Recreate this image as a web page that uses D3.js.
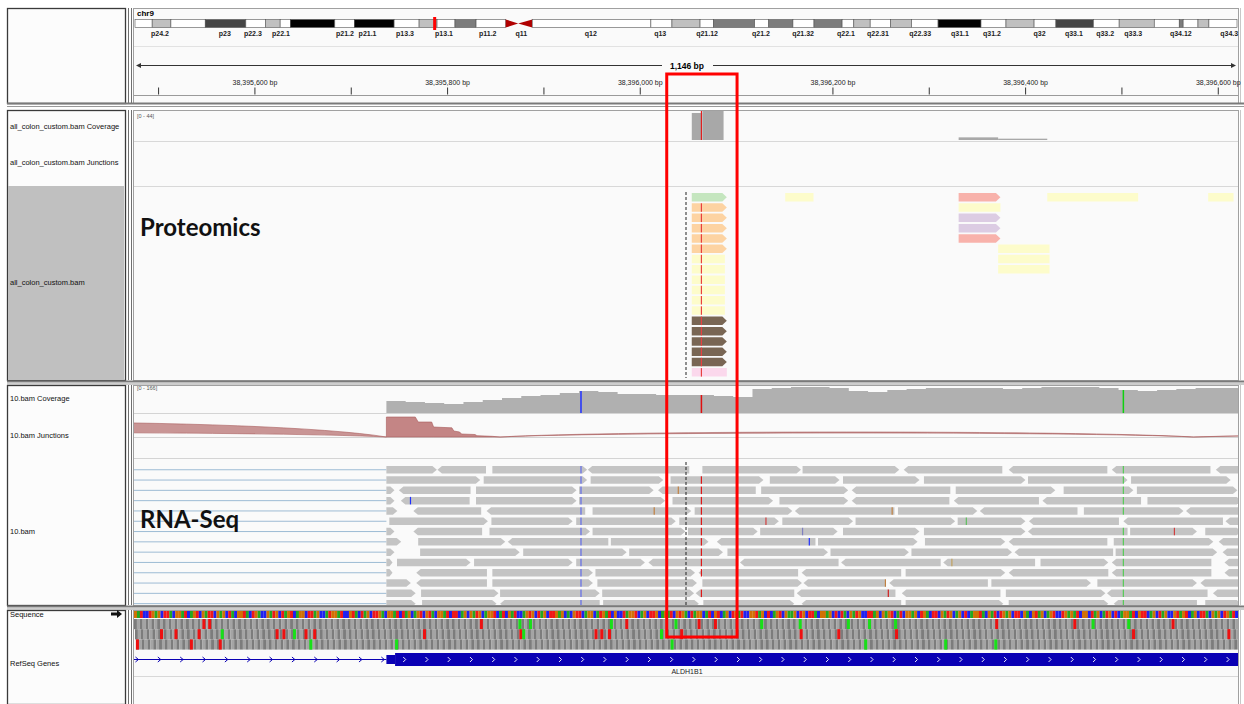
<!DOCTYPE html>
<html><head><meta charset="utf-8">
<script src="https://cdn.jsdelivr.net/npm/d3@7"></script>
<style>
html,body{margin:0;padding:0;background:#fff;}
svg{display:block;font-family:"Liberation Sans",Arial,sans-serif;}
</style></head><body>
<svg id="c" width="1244" height="704"></svg>
<script>
// ---------------- DATA ----------------
const VIEW_START = 38395475, VIEW_END = 38396621;   // chr9 locus shown (1,146 bp)
const chrName = "chr9";
const chrLength = 141.2; // Mb
// ideogram bands: [startMb, endMb, stain]
const chrBands = [[0,2.2,"gneg"],[2.2,4.6,"gpos25"],[4.6,9.0,"gneg"],[9.0,14.2,"gpos75"],[14.2,16.7,"gneg"],
 [16.7,18.6,"gpos25"],[18.6,19.9,"gneg"],[19.9,25.6,"gpos100"],[25.6,28.1,"gneg"],[28.1,33.2,"gpos100"],
 [33.2,36.4,"gneg"],[36.4,38.7,"gpos25"],[38.7,41.0,"gneg"],[41.0,43.7,"gpos50"],[43.7,47.5,"gneg"],
 [47.5,49.1,"acenL"],[49.1,50.9,"acenR"],[50.9,66.1,"gneg"],[66.1,68.8,"gneg"],[68.8,72.4,"gpos25"],
 [72.4,74.1,"gneg"],[74.1,79.4,"gpos50"],[79.4,81.2,"gneg"],[81.2,84.3,"gpos50"],[84.3,87.0,"gneg"],
 [87.0,90.6,"gpos50"],[90.6,92.1,"gneg"],[92.1,94.2,"gpos25"],[94.2,96.8,"gneg"],[96.8,99.5,"gpos25"],
 [99.5,102.9,"gneg"],[102.9,108.4,"gpos100"],[108.4,111.6,"gneg"],[111.6,115.2,"gpos25"],[115.2,118.0,"gneg"],
 [118.0,122.8,"gpos75"],[122.8,126.1,"gneg"],[126.1,130.6,"gpos25"],[130.6,133.8,"gneg"],[133.8,134.3,"gpos50"],
 [134.3,136.2,"gneg"],[136.2,137.6,"gpos25"],[137.6,141.2,"gneg"]];
const bandLabels = [["p24.2",3.2],["p23",11.5],["p22.3",15.1],["p22.1",18.7],["p21.2",26.9],["p21.1",29.8],
 ["p13.3",34.6],["p13.1",39.6],["p11.2",45.2],["q11",49.5],["q12",58.4],["q13",67.3],["q21.12",73.3],
 ["q21.2",80.2],["q21.32",85.6],["q22.1",91.1],["q22.31",95.2],["q22.33",100.6],["q31.1",105.7],
 ["q31.2",109.8],["q32",115.9],["q33.1",120.3],["q33.2",124.3],["q33.3",127.9],["q34.12",134.0],["q34.3",140.2]];
const rulerTicks = [38395500,38395600,38395700,38395800,38395900,38396000,38396100,38396200,38396300,38396400,38396500,38396600];

// track names
const protTrackNames = ["all_colon_custom.bam Coverage","all_colon_custom.bam Junctions","all_colon_custom.bam"];
const rnaTrackNames = ["10.bam Coverage","10.bam Junctions","10.bam"];
const refTrackNames = ["Sequence","RefSeq Genes"];
const protRange = [0,44], rnaRange = [0,166];

// highlighted region (offsets in bp from VIEW_START)
const highlightRegion = [553,626];

// proteomics coverage: [startOffset, endOffset, depth]
const protCoverage = [[579,590,41],[590,612,44],[856,897,4],[897,948,2]];
// proteomics peptide alignments: [row, start, end, colour class, strand]
const protReads = [
 [0,579,616,"green","+"],[0,676,706,"yellow",""],[0,856,900,"salmon","+"],[0,948,1043,"yellow",""],[0,1115,1142,"yellow",""],
 [1,579,616,"peach","+"],[1,856,900,"yellow",""],
 [2,579,616,"peach","+"],[2,856,900,"lavender","+"],
 [3,579,616,"peach","+"],[3,856,900,"lavender","+"],
 [4,579,616,"peach","+"],[4,856,900,"salmon","+"],
 [5,579,616,"peach","+"],[5,897,951,"yellow",""],
 [6,579,614,"yellow",""],[6,897,951,"yellow",""],
 [7,579,614,"yellow",""],[7,897,951,"yellow",""],
 [8,579,614,"yellow",""],[9,579,614,"yellow",""],[10,579,614,"yellow",""],[11,579,614,"yellow",""],
 [12,579,616,"brown","+"],[13,579,616,"brown","+"],[14,579,616,"brown","+"],[15,579,616,"brown","+"],[16,579,616,"brown","+"],
 [17,579,616,"pink",""]];
const protVariant = {off:589, rows:[1,17]};
const centerOffset = 573;

// RNA coverage sampled every 20 bp starting at offset 262
const rnaCovStart = 262, rnaCovStep = 20;
const rnaCoverage = [77,70,64,57,70,83,96,109,115,128,140,134,121,121,115,115,115,109,102,153,160,166,166,160,140,
 134,147,153,160,160,160,160,153,160,166,166,166,160,147,140,147,153,160,160,160];
// junction arcs {start,end,depth}
const rnaJunctions = [{start:-500,end:262,depth:44},{start:380,end:1100,depth:4},{start:1100,end:2400,depth:4}];
// stacked junction depth profile near the exon start [offset, depth]
const junctionProfile = [[262,120],[292,120],[295,90],[309,90],[311,60],[330,55],[332,36],[338,30],[340,18],[354,15],[356,8],[372,4],[380,0]];
// variant columns [offset, colour]
const snpColumns = [[464,"#2030ff"],[589,"#e01010"],[1027,"#10d010"]];
// RNA alignments per row: [start, end, strand]
const rnaRows = [
 [[262,315,"+"],[315,366,"-"],[372,471,"+"],[471,577,"-"],[590,693,"+"],[694,795,"+"],[799,902,"-"],[908,1011,"-"],[1015,1118,"-"],[1123,1150,"-"]],
 [[262,360,"+"],[363,471,"+"],[474,550,"+"],[557,654,"+"],[660,733,"+"],[736,816,"+"],[820,926,"+"],[928,1032,"+"],[1035,1139,"+"]],
 [[262,271,"+"],[275,350,"-"],[355,460,"+"],[462,540,"+"],[544,646,"-"],[651,742,"+"],[745,848,"-"],[853,957,"+"],[965,1038,"+"],[1041,1146,"+"]],
 [[262,271,"+"],[277,349,"-"],[355,460,"+"],[462,552,"+"],[559,664,"+"],[670,742,"+"],[745,847,"-"],[851,940,"-"],[943,1046,"-"],[1052,1150,"+"]],
 [[262,274,"+"],[290,361,"-"],[366,469,"-"],[476,579,"+"],[582,684,"+"],[686,790,"-"],[793,876,"+"],[878,980,"-"],[986,1090,"+"],[1092,1150,"-"]],
 [[265,368,"+"],[371,456,"+"],[459,563,"+"],[566,670,"+"],[673,747,"+"],[749,853,"+"],[855,926,"+"],[929,1023,"-"],[1027,1131,"-"],[1133,1150,"-"]],
 [[262,271,"+"],[290,362,"-"],[369,474,"+"],[476,573,"+"],[575,648,"+"],[650,731,"+"],[736,816,"+"],[820,926,"+"],[928,1032,"-"],[1034,1104,"+"],[1112,1150,"+"]],
 [[262,278,"+"],[295,386,"+"],[388,493,"-"],[495,597,"+"],[605,708,"-"],[710,814,"+"],[821,905,"+"],[908,1011,"-"],[1017,1121,"+"],[1126,1150,"-"]],
 [[262,271,"+"],[297,401,"+"],[404,512,"+"],[514,612,"+"],[616,721,"+"],[723,805,"+"],[807,912,"+"],[914,1017,"-"],[1019,1125,"+"],[1130,1150,"-"]],
 [[262,269,"+"],[273,350,"+"],[353,456,"+"],[459,531,"+"],[534,628,"-"],[629,732,"-"],[734,838,"-"],[840,936,"-"],[941,1012,"+"],[1015,1119,"-"],[1132,1150,"-"]],
 [[262,269,"+"],[293,367,"-"],[372,477,"+"],[479,583,"+"],[586,690,"-"],[693,797,"-"],[801,905,"+"],[908,1012,"-"],[1015,1119,"-"],[1132,1150,"-"]],
 [[262,288,"+"],[293,367,"-"],[372,477,"+"],[481,585,"+"],[590,694,"+"],[695,781,"-"],[784,887,"-"],[890,994,"+"],[1000,1104,"+"],[1107,1150,"-"]],
 [[262,293,"+"],[298,379,"+"],[380,484,"+"],[486,582,"+"],[583,686,"-"],[688,791,"-"],[797,900,"-"],[905,1009,"+"],[1010,1115,"-"],[1120,1150,"-"]],
 [[262,293,"+"],[299,377,"+"],[380,484,"-"],[487,587,"+"],[591,686,"+"],[693,797,"-"],[801,903,"+"],[908,1012,"+"],[1017,1104,"-"],[1112,1150,"+"]]];
// isolated mismatches [row, offset, colour]
const rnaMismatches = [[3,287,"#2030ff"],[7,701,"#2030ff"],[2,565,"#c08040"],[4,540,"#c08040"],[4,787,"#c08040"],
 [5,656,"#d04040"],[12,783,"#d02020"],[6,694,"#8080c0"],[9,849,"#c0a060"],[11,780,"#c08040"],[6,1080,"#d04040"],[5,864,"#60c060"]];

// reference sequence (sampled) and translation markers per frame
const refSequence = "GATCCTGAGCTTACGGATCAGTCGATTCGAGCTACGGTAC" + "TGACCGATGCTAGTCAGGCTTAGCCATGGATCCGTACTAG" +
 "CTTGACGGATCTAGCAGTCGTACGGATCTTCAGCGATGCA" + "GGTCATCGATCCAGTGCTAGCTTGAGCACGTTCAGGCATG" +
 "ATCGCCTAGGTCAGCTTGCAGATCGTGACTAGGCATCGTC" + "AGCTGATCCGGTAGCTCAGTCGAAGCTGCTTACGGAGCTC" +
 "TACGATGCCTTAGCGAGTCATCGGAGCTGACTTCGATGCA" + "GCTCAGGTACGATCTGAGCTTCGACGTAGCAGTCCTGAGA" +
 "TCGGCTAGCATGCTCAGGATCGTTCAGCTAGCCGTAGTCA" + "GCTTACGAGCTGATC";
const frameStops = [[71,77,359,510,585,602,894,975,1077],
 [27,42,66,147,154,177,186,300,400,478,484,492,567,691,730,790,1036,1135],
 [2,58,88]];
const frameStarts = [[399,410,494,561,650,690,740,762,789,994,1031],
 [90,165,403,546],
 [182,271,557,758,841,893]];
// RefSeq gene
const geneName = "ALDH1B1";
const geneIntron = [-300,262], geneUTR = [262,271], geneCDS = [271,1200];

// ---------------- DRAW ----------------
const svg = d3.select("#c");
const L = 134, R = 1238;
const pos = o => VIEW_START + o;
const x = d3.scaleLinear().domain([VIEW_START, VIEW_END]).range([L, R]);
const defs = svg.append("defs");
defs.append("clipPath").attr("id","dclip").append("rect").attr("x",L).attr("y",0).attr("width",R-L).attr("height",704);
defs.append("clipPath").attr("id","nclip").append("rect").attr("x",8).attr("y",0).attr("width",116).attr("height",704);
defs.append("clipPath").attr("id","aclip").append("rect").attr("x",L).attr("y",459).attr("width",R-L).attr("height",146);

svg.append("rect").attr("width",1244).attr("height",704).attr("fill","#ffffff");

const panels = [[8,103],[110,380],[385,605],[610,704]];
panels.forEach(([y0,y1])=>{
  svg.append("rect").attr("x",7.5).attr("y",y0+0.5).attr("width",118).attr("height",y1-y0)
     .attr("fill","#fcfcfc").attr("stroke","#3a3a3a").attr("stroke-width",1.3);
  svg.append("rect").attr("x",L-0.5).attr("y",y0+0.5).attr("width",R-L+1).attr("height",y1-y0)
     .attr("fill","#fafafa").attr("stroke","#a0a0a0");
  [128.5,131.5].forEach(v=>svg.append("line").attr("x1",v).attr("x2",v).attr("y1",y0).attr("y2",y1).attr("stroke","#707070"));
  svg.append("line").attr("x1",1240.5).attr("x2",1240.5).attr("y1",y0).attr("y2",y1).attr("stroke","#c8c8c8");
});
[[103,106.5],[381,384],[606,609]].forEach(([a,b])=>{
  svg.append("rect").attr("x",7).attr("y",a-0.5).attr("width",1237).attr("height",2).attr("fill","#7a7a7a");
  svg.append("line").attr("x1",7).attr("x2",1244).attr("y1",b).attr("y2",b).attr("stroke","#9a9a9a");
});

// --- header: ideogram
const chrX = d3.scaleLinear().domain([0, chrLength]).range([135, 1237]);
const stainCol = {gneg:"#ffffff",gpos25:"#c0c0c0",gpos50:"#7c7c7c",gpos75:"#454545",gpos100:"#000000"};
const hdr = svg.append("g");
hdr.append("text").attr("x",137).attr("y",16).attr("font-size",8).attr("font-weight","bold").text(chrName);
const iy = 19.5, ih = 8;
chrBands.forEach(b=>{
  const x0 = chrX(b[0]), x1 = chrX(b[1]);
  if (b[2]==="acenL") hdr.append("path").attr("d",`M${x0},${iy}L${x1},${iy+ih/2}L${x0},${iy+ih}Z`).attr("fill","#b00000");
  else if (b[2]==="acenR") hdr.append("path").attr("d",`M${x1},${iy}L${x0},${iy+ih/2}L${x1},${iy+ih}Z`).attr("fill","#b00000");
  else hdr.append("rect").attr("x",x0).attr("y",iy).attr("width",x1-x0).attr("height",ih)
      .attr("fill",stainCol[b[2]]).attr("stroke","#555").attr("stroke-width",0.6);
});
hdr.append("rect").attr("x",chrX(VIEW_START/1e6)-1.5).attr("y",17).attr("width",3).attr("height",13).attr("fill","#ff0000");
hdr.selectAll("text.band").data(bandLabels).join("text").attr("class","band")
  .attr("x",d=>chrX(d[1])).attr("y",36).attr("text-anchor","middle").attr("font-size",7).attr("font-weight","bold")
  .attr("fill","#222").text(d=>d[0]);
hdr.append("line").attr("x1",L).attr("x2",R).attr("y1",46.5).attr("y2",46.5).attr("stroke","#e2e2e2");

// ruler
const mid = (L+R)/2;
hdr.append("line").attr("x1",138).attr("x2",662).attr("y1",65.5).attr("y2",65.5).attr("stroke","#333");
hdr.append("line").attr("x1",713).attr("x2",1234).attr("y1",65.5).attr("y2",65.5).attr("stroke","#333");
hdr.append("path").attr("d","M136,65.5l5,-2.5v5z").attr("fill","#333");
hdr.append("path").attr("d","M1236,65.5l-5,-2.5v5z").attr("fill","#333");
hdr.append("text").attr("x",mid+1).attr("y",68.5).attr("text-anchor","middle").attr("font-size",8.5)
  .attr("font-weight","bold").text(d3.format(",")(VIEW_END-VIEW_START)+" bp");
const axis = d3.axisTop(x).tickValues(rulerTicks).tickSize(7).tickPadding(3)
  .tickFormat(d => d % 200 === 0 ? d3.format(",")(d) + " bp" : "");
const ag = hdr.append("g").attr("transform","translate(0,94.5)").call(axis);
ag.select(".domain").remove();
ag.selectAll("line").attr("stroke","#333");
ag.selectAll("text").attr("font-size",7).attr("fill","#222").attr("font-family","Liberation Sans, Arial");
hdr.append("line").attr("x1",L).attr("x2",R).attr("y1",95.5).attr("y2",95.5).attr("stroke","#9a9a9a");

// --- names
const names = svg.append("g").attr("clip-path","url(#nclip)");
names.append("rect").attr("x",8).attr("y",186).attr("width",117).attr("height",194).attr("fill","#c0c0c0");
const nameRows = [[protTrackNames[0],129],[protTrackNames[1],165],[protTrackNames[2],285],
  [rnaTrackNames[0],401],[rnaTrackNames[1],438],[rnaTrackNames[2],534],[refTrackNames[0],617],[refTrackNames[1],666]];
names.selectAll("text").data(nameRows).join("text").attr("x",10).attr("y",d=>d[1])
  .attr("font-size",7.5).attr("fill","#111").text(d=>d[0]);
svg.append("path").attr("d","M111,612.5h6v-2.5l5,4l-5,4v-2.5h-6z").attr("fill","#111");

const D = svg.append("g").attr("clip-path","url(#dclip)");

// --- proteomics
D.append("text").attr("x",137).attr("y",118).attr("font-size",5.5).attr("fill","#555").text(`[${protRange[0]} - ${protRange[1]}]`);
[141.5,186.5].forEach(v=>D.append("line").attr("x1",L).attr("x2",R).attr("y1",v).attr("y2",v).attr("stroke","#d8d8d8"));
const yProt = d3.scaleLinear().domain(protRange).range([140,111]);
D.selectAll("rect.pcov").data(protCoverage).join("rect").attr("class","pcov")
  .attr("x",d=>x(pos(d[0]))).attr("width",d=>x(pos(d[1]))-x(pos(d[0])))
  .attr("y",d=>yProt(d[2])).attr("height",d=>140-yProt(d[2])).attr("fill","#a8a8a8");
D.append("line").attr("x1",x(pos(protVariant.off))).attr("x2",x(pos(protVariant.off))).attr("y1",yProt(44)).attr("y2",140)
  .attr("stroke","#e02020").attr("stroke-width",1.2);

function readPath(x1,x2,y,h,s){
  x2 -= 0.6;
  const a = Math.min(4.5,(x2-x1)/2);
  if (s==="+") return `M${x1},${y}H${x2-a}L${x2},${y+h/2}L${x2-a},${y+h}H${x1}Z`;
  if (s==="-") return `M${x1+a},${y}H${x2}V${y+h}H${x1+a}L${x1},${y+h/2}Z`;
  return `M${x1},${y}H${x2}V${y+h}H${x1}Z`;
}
const protCol = {green:"#c5e6bf",peach:"#fdd3a2",yellow:"#fdfccb",salmon:"#f8b2ab",lavender:"#dccce3",brown:"#796654",pink:"#fbd8ec"};
const protRowY = r => 193 + r*10.3;
D.selectAll("path.pr").data(protReads).join("path").attr("class","pr")
  .attr("d",d=>readPath(x(pos(d[1])),x(pos(d[2])),protRowY(d[0]),8.5,d[4])).attr("fill",d=>protCol[d[3]]);
protReads.filter(d=>d[0]>=protVariant.rows[0] && d[0]<=protVariant.rows[1] && d[1]<=protVariant.off && d[2]>protVariant.off)
  .forEach(d=>D.append("line").attr("x1",x(pos(protVariant.off))).attr("x2",x(pos(protVariant.off)))
    .attr("y1",protRowY(d[0])).attr("y2",protRowY(d[0])+8.5).attr("stroke","#e84040").attr("stroke-width",1.2));
D.append("line").attr("x1",x(pos(centerOffset))).attr("x2",x(pos(centerOffset))).attr("y1",192).attr("y2",378)
  .attr("stroke","#222").attr("stroke-dasharray","3,2");
D.append("text").attr("x",140).attr("y",236).attr("font-family","Lato, 'Open Sans', sans-serif").attr("font-weight",700)
  .attr("font-size",24).attr("fill","#111").text("Proteomics");

// --- RNA coverage
D.append("text").attr("x",137).attr("y",390).attr("font-size",5.5).attr("fill","#555").text(`[${rnaRange[0]} - ${rnaRange[1]}]`);
const yCov = d3.scaleLinear().domain(rnaRange).range([413,387]);
const covPts = rnaCoverage.map((v,i)=>[pos(rnaCovStart+i*rnaCovStep),v]);
covPts.push([pos(rnaCovStart+rnaCoverage.length*rnaCovStep), rnaCoverage[rnaCoverage.length-1]]);
D.append("path").datum(covPts).attr("fill","#b0b0b0")
  .attr("d",d3.area().curve(d3.curveStepAfter).x(d=>x(d[0])).y0(413).y1(d=>yCov(d[1])));
snpColumns.forEach(([o,c])=>{
  const v = rnaCoverage[Math.floor((o-rnaCovStart)/rnaCovStep)];
  D.append("line").attr("x1",x(pos(o))).attr("x2",x(pos(o))).attr("y1",yCov(v)).attr("y2",413).attr("stroke",c).attr("stroke-width",1.5);
});
[413.5,437.5,458.5].forEach(v=>D.append("line").attr("x1",L).attr("x2",R).attr("y1",v).attr("y2",v).attr("stroke","#d4d4d4"));

// --- RNA junctions
const jBase = 437;
rnaJunctions.forEach(j=>{
  const x0 = x(pos(j.start)), x1 = x(pos(j.end)), w = x1-x0;
  const H = 4 + j.depth*0.25, T = Math.max(1, j.depth*0.24);
  const cO = H/0.75, cI = (H-T)/0.75;
  D.append("path").attr("d",`M${x0},${jBase}C${x0+w/6},${jBase-cO} ${x1-w/6},${jBase-cO} ${x1},${jBase}C${x1-w/6},${jBase-cI} ${x0+w/6},${jBase-cI} ${x0},${jBase}Z`)
    .attr("fill","#c38a8a").attr("stroke","#a85a5a").attr("stroke-width",0.6).attr("fill-opacity",0.9);
});
const yJ = d3.scaleLinear().domain([0,120]).range([jBase,417]);
D.append("path").datum(junctionProfile).attr("fill","#c48585").attr("stroke","#a85a5a").attr("stroke-width",0.6)
  .attr("d",d3.area().x(d=>x(pos(d[0]))).y0(jBase).y1(d=>yJ(d[1])));

// --- RNA alignments
const A = D.append("g").attr("clip-path","url(#aclip)");
const rowY = r => 466 + r*10.3;
rnaRows.forEach((row,r)=>{
  A.append("line").attr("x1",L).attr("x2",x(pos(262))).attr("y1",rowY(r)+3.75).attr("y2",rowY(r)+3.75)
    .attr("stroke","#9dbbd4").attr("stroke-width",1);
  row.forEach(rd=>{
    A.append("path").attr("d",readPath(x(pos(rd[0])),x(pos(rd[1])),rowY(r),7.5,rd[2])).attr("fill","#c4c4c4");
    snpColumns.forEach(([o,c],k)=>{
      if (rd[0]<o && rd[1]>o) A.append("line").attr("x1",x(pos(o))).attr("x2",x(pos(o))).attr("y1",rowY(r)).attr("y2",rowY(r)+7.5)
        .attr("stroke",c).attr("stroke-width",1.2).attr("opacity",k===1?0.95:0.6);
    });
  });
});
rnaMismatches.forEach(([r,o,c])=>A.append("line").attr("x1",x(pos(o))).attr("x2",x(pos(o)))
  .attr("y1",rowY(r)).attr("y2",rowY(r)+7.5).attr("stroke",c).attr("stroke-width",1.2));
A.append("line").attr("x1",x(pos(centerOffset))).attr("x2",x(pos(centerOffset))).attr("y1",462).attr("y2",605)
  .attr("stroke","#222").attr("stroke-dasharray","3,2");
D.append("text").attr("x",140).attr("y",528).attr("font-family","Lato, 'Open Sans', sans-serif").attr("font-weight",700)
  .attr("font-size",24).attr("fill","#111").text("RNA-Seq");

// --- sequence
const baseCol = {A:"#22a822",C:"#2020f0",G:"#d17105",T:"#f01818"};
const bpPer = (VIEW_END-VIEW_START)/refSequence.length;
D.selectAll("rect.seq").data(refSequence.split("")).join("rect").attr("class","seq")
  .attr("x",(d,i)=>x(pos(i*bpPer))).attr("width",x(pos(bpPer))-x(pos(0))+0.1)
  .attr("y",611).attr("height",7).attr("fill",d=>baseCol[d]);
[0,1,2].forEach(f=>{
  const y0 = 619 + f*10.2;
  const codons = d3.range(f, VIEW_END-VIEW_START, 3);
  D.selectAll(`rect.fr${f}`).data(codons).join("rect").attr("class",`fr${f}`)
    .attr("x",d=>x(pos(d))).attr("width",x(pos(3))-x(pos(0))+0.05).attr("y",y0).attr("height",10.2)
    .attr("fill",(d,i)=>i%2?"#a4a4a4":"#7c7c7c");
  D.selectAll(`rect.st${f}`).data(frameStops[f]).join("rect").attr("class",`st${f}`)
    .attr("x",d=>x(pos(d))).attr("width",3).attr("y",y0).attr("height",10.2).attr("fill","#ee1010");
  D.selectAll(`rect.mt${f}`).data(frameStarts[f]).join("rect").attr("class",`mt${f}`)
    .attr("x",d=>x(pos(d))).attr("width",3).attr("y",y0).attr("height",10.2).attr("fill","#18e018");
});

// --- RefSeq gene
const gy = 659.5, blue = "#0a00b4";
D.append("line").attr("x1",x(pos(geneIntron[0]))).attr("x2",x(pos(geneIntron[1]))).attr("y1",gy).attr("y2",gy).attr("stroke",blue);
d3.range(geneIntron[0]+2, geneIntron[1]-3, 23.2).forEach(o=>{
  const cx = x(pos(o));
  D.append("path").attr("d",`M${cx-2},${gy-2.5}L${cx+1},${gy}L${cx-2},${gy+2.5}`).attr("fill","none").attr("stroke",blue);
});
D.append("rect").attr("x",x(pos(geneUTR[0]))).attr("width",x(pos(geneUTR[1]))-x(pos(geneUTR[0]))).attr("y",655).attr("height",9).attr("fill",blue);
D.append("rect").attr("x",x(pos(geneCDS[0]))).attr("width",x(pos(geneCDS[1]))-x(pos(geneCDS[0]))).attr("y",653).attr("height",13).attr("fill",blue);
d3.range(geneCDS[0]+10, geneCDS[1], 23.1).forEach(o=>{
  const cx = x(pos(o));
  D.append("path").attr("d",`M${cx-1.5},${gy-2.5}L${cx+1},${gy}L${cx-1.5},${gy+2.5}`).attr("fill","none").attr("stroke","#fff").attr("stroke-width",0.9);
});
D.append("text").attr("x",mid+1).attr("y",674).attr("text-anchor","middle").attr("font-size",7).attr("fill","#222").text(geneName);
D.append("line").attr("x1",L).attr("x2",R).attr("y1",676.5).attr("y2",676.5).attr("stroke","#d8d8d8");

// --- highlight box
svg.append("rect").attr("x",x(pos(highlightRegion[0]))).attr("y",74)
  .attr("width",x(pos(highlightRegion[1]))-x(pos(highlightRegion[0]))).attr("height",563)
  .attr("fill","none").attr("stroke","#ff0000").attr("stroke-width",3);
</script>
</body></html>
